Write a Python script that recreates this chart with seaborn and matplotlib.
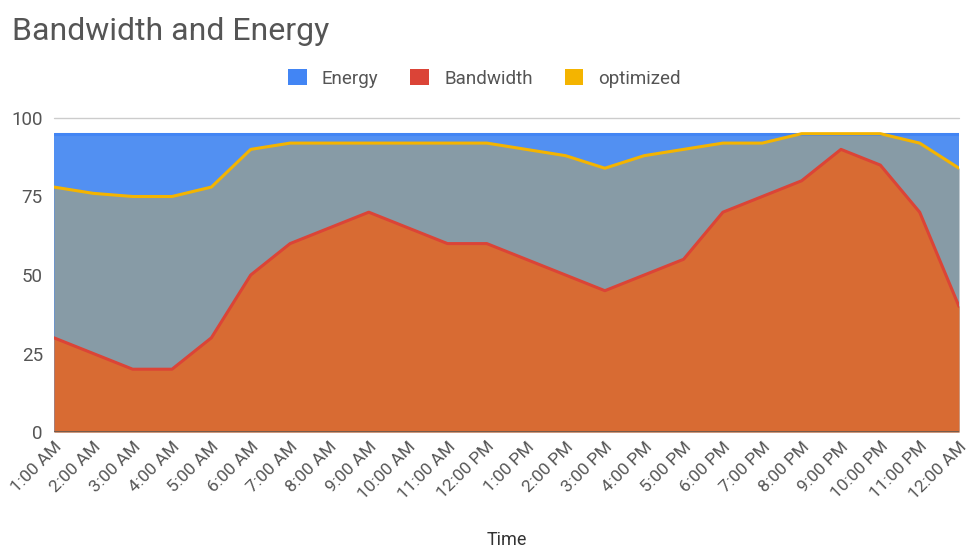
import matplotlib
matplotlib.use("Agg")
import matplotlib.pyplot as plt
import matplotlib.patches as mpatches
import seaborn as sns
import pandas as pd
import numpy as np

times = ["1:00 AM", "2:00 AM", "3:00 AM", "4:00 AM", "5:00 AM", "6:00 AM", "7:00 AM",
         "8:00 AM", "9:00 AM", "10:00 AM", "11:00 AM", "12:00 PM", "1:00 PM", "2:00 PM",
         "3:00 PM", "4:00 PM", "5:00 PM", "6:00 PM", "7:00 PM", "8:00 PM", "9:00 PM",
         "10:00 PM", "11:00 PM", "12:00 AM"]
energy = [95] * 24
bandwidth = [30, 25, 20, 20, 30, 50, 60, 65, 70, 65, 60, 60, 55, 50, 45, 50, 55, 70, 75, 80, 90, 85, 70, 40]
optimized = [78, 76, 75, 75, 78, 90, 92, 92, 92, 92, 92, 92, 90, 88, 84, 88, 90, 92, 92, 95, 95, 95, 92, 84]
y_ticks = [0, 25, 50, 75, 100]

sns.set_theme(style="white")
plt.rcParams["font.family"] = ["Roboto", "DejaVu Sans"]

idx = np.arange(len(times))
df = pd.DataFrame({"idx": idx, "Energy": energy, "Bandwidth": bandwidth, "optimized": optimized})
long = df.melt(id_vars="idx", var_name="series", value_name="value")

line_colors = {"Energy": "#4285f4", "Bandwidth": "#db4437", "optimized": "#f4b400"}
fill_colors = {"Energy": "#5290f2", "optimized": "#879ba6", "Bandwidth": "#d86b33"}

fig = plt.figure(figsize=(9.69, 5.5), dpi=100)
ax = fig.add_axes([0.0557, 0.2145, 0.934, 0.571])

for s in ["Energy", "optimized", "Bandwidth"]:
    ax.fill_between(df["idx"], 0, df[s], color=fill_colors[s], linewidth=0, zorder=1)

sns.lineplot(data=long, x="idx", y="value", hue="series", palette=line_colors,
             hue_order=["Energy", "optimized", "Bandwidth"], linewidth=2.2,
             legend=False, ax=ax, zorder=3)

ax.set_xlim(0, len(times) - 1)
ax.set_ylim(0, 100)
ax.set_yticks(y_ticks)
ax.set_yticklabels([str(v) for v in y_ticks], color="#555555", fontsize=13.5)
ax.set_xticks(idx)
ax.set_xticklabels(times, rotation=45, ha="right", rotation_mode="anchor",
                   color="#555555", fontsize=12.5)
ax.tick_params(axis="x", length=0, pad=5)
ax.tick_params(axis="y", length=0, pad=8)
ax.axhline(100, color="#cccccc", linewidth=1, zorder=0, clip_on=False)
ax.axhline(0, color="#6b5a4e", linewidth=2, zorder=4)
for sp in ax.spines.values():
    sp.set_visible(False)
ax.set_xlabel("")
ax.set_ylabel("")

fig.text(0.5235, 0.002, "Time", ha="center", va="bottom", fontsize=13, color="#333333")
fig.text(0.012, 0.942, "Bandwidth and Energy", ha="left", va="center", fontsize=23, color="#555555")

handles = [mpatches.Patch(facecolor=line_colors[s], edgecolor="none", label=s)
           for s in ["Energy", "Bandwidth", "optimized"]]
fig.legend(handles=handles, loc="center", bbox_to_anchor=(0.5, 0.858), ncol=3,
           frameon=False, fontsize=13.5, handlelength=1.0, handleheight=1.0,
           columnspacing=1.7, handletextpad=0.8, labelcolor="#555555")

fig.savefig("out.png", dpi=100)
